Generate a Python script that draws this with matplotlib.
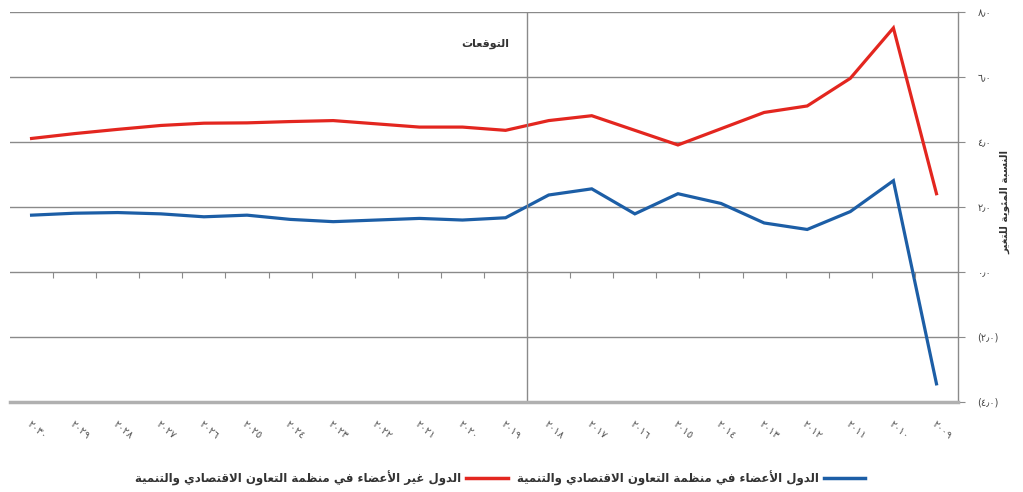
import matplotlib
matplotlib.use("Agg")
import matplotlib.pyplot as plt
from matplotlib.lines import Line2D

# --- minimal Arabic shaping (presentation forms) + visual reordering ---
# letter -> (isolated form code point, dual-joining?)
FORMS = {
    'ء': (0xFE80, None), 'أ': (0xFE83, False), 'ئ': (0xFE89, True), 'ا': (0xFE8D, False),
    'ب': (0xFE8F, True), 'ة': (0xFE93, False), 'ت': (0xFE95, True), 'د': (0xFEA9, False),
    'ر': (0xFEAD, False), 'س': (0xFEB1, True), 'ص': (0xFEB9, True), 'ض': (0xFEBD, True),
    'ظ': (0xFEC5, True), 'ع': (0xFEC9, True), 'غ': (0xFECD, True), 'ف': (0xFED1, True),
    'ق': (0xFED5, True), 'ل': (0xFEDD, True), 'م': (0xFEE1, True), 'ن': (0xFEE5, True),
    'ه': (0xFEE9, True), 'و': (0xFEED, False), 'ي': (0xFEF1, True),
}
LAM_ALEF = {'ا': 0xFEFB, 'أ': 0xFEF7}


def shape(text):
    units = []
    i = 0
    while i < len(text):
        c = text[i]
        if c == 'ل' and i + 1 < len(text) and text[i + 1] in LAM_ALEF:
            units.append(('LA', LAM_ALEF[text[i + 1]], False))
            i += 2
            continue
        if c in FORMS:
            units.append(('L', FORMS[c][0], FORMS[c][1]))
        else:
            units.append(('X', c, None))
        i += 1
    out = []
    for j, (kind, base, dual) in enumerate(units):
        if kind == 'X':
            out.append(base)
            continue
        prev = units[j - 1] if j > 0 else None
        nxt = units[j + 1] if j + 1 < len(units) else None
        jp = prev is not None and prev[0] != 'X' and prev[2] is True
        jn = dual is True and nxt is not None and nxt[0] != 'X'
        if dual is None:
            cp = base
        elif jp and jn:
            cp = base + 3
        elif jn:
            cp = base + 2
        elif jp:
            cp = base + 1
        else:
            cp = base
        out.append(chr(cp))
    return ''.join(out)[::-1]


def ar_digits(s):
    return s.translate(str.maketrans('0123456789.', '٠١٢٣٤٥٦٧٨٩٫'))


# --- data (chronological) ---
years = list(range(2009, 2031))
non_oecd = [2.4, 7.5, 5.95, 5.1, 4.9, 4.4, 3.9, 4.35, 4.8, 4.65, 4.35,
            4.45, 4.45, 4.55, 4.65, 4.62, 4.58, 4.57, 4.5, 4.38, 4.25, 4.1]
oecd = [-3.45, 2.8, 1.85, 1.3, 1.5, 2.1, 2.4, 1.78, 2.55, 2.36, 1.66,
        1.59, 1.64, 1.59, 1.54, 1.61, 1.74, 1.69, 1.78, 1.82, 1.8, 1.74]
y_ticks = [-4, -2, 0, 2, 4, 6, 8]
forecast_start = 2018.5

lbl_oecd = "الدول الأعضاء في منظمة التعاون الاقتصادي والتنمية"
lbl_non = "الدول غير الأعضاء في منظمة التعاون الاقتصادي والتنمية"
lbl_forecast = "التوقعات"
lbl_y = "النسبة المئوية للتغير"

red = '#e3261f'
blue = '#1c5ea6'
grid_c = '#8a8a8a'

plt.rcParams['font.family'] = ['DejaVu Sans']

fig = plt.figure(figsize=(10.23, 4.92), dpi=100)
ax = fig.add_axes([0.0098, 0.1835, 0.9267, 0.7927])

ax.plot(years, non_oecd, color=red, lw=2.3, solid_joinstyle='miter')
ax.plot(years, oecd, color=blue, lw=2.3, solid_joinstyle='miter')

ax.set_xlim(2030.5, 2008.5)
ax.set_ylim(-4, 8)

ax.set_yticks(y_ticks)
ax.set_yticklabels([ar_digits('(%.1f)' % abs(v)) if v < 0 else ar_digits('%.1f' % v) for v in y_ticks],
                   fontsize=7, color='#444444')
ax.yaxis.tick_right()
ax.tick_params(axis='y', length=5, color=grid_c, pad=9)
ax.grid(axis='y', color=grid_c, lw=1)
ax.set_axisbelow(True)

ax.set_xticks(years)
ax.set_xticklabels([ar_digits(str(y)) for y in years], rotation=-40, ha='left',
                   rotation_mode='anchor', fontsize=7.5, color='#555555')
ax.tick_params(axis='x', length=0, pad=12)

for s in ['left', 'top']:
    ax.spines[s].set_visible(False)
ax.spines['right'].set_color(grid_c)
ax.spines['right'].set_linewidth(1)
ax.spines['bottom'].set_color('#b0b0b0')
ax.spines['bottom'].set_linewidth(2.5)

# small category ticks on the zero line
ax2 = ax.twiny()
ax2.set_xlim(ax.get_xlim())
ax2.xaxis.set_ticks_position('bottom')
ax2.spines['bottom'].set_position(('data', 0))
for s in ax2.spines.values():
    s.set_visible(False)
ax2.set_xticks([y + 0.5 for y in years[:-1]])
ax2.set_xticklabels([])
ax2.tick_params(axis='x', length=4, color=grid_c, width=0.8)

ax.axvline(forecast_start, color=grid_c, lw=1)
ax.text(forecast_start + 0.42, 7.0, shape(lbl_forecast), ha='right', va='center',
        fontsize=8, fontweight='bold', color='#333333')

fig.text(0.983, 0.59, shape(lbl_y), rotation=90, ha='center', va='center',
         fontsize=7.5, fontweight='bold', color='#333333')

handles = [Line2D([], [], color=red, lw=2.5), Line2D([], [], color=blue, lw=2.5)]
fig.legend(handles, [shape(lbl_non), shape(lbl_oecd)], loc='center',
           bbox_to_anchor=(0.489, 0.028), ncol=2, frameon=False, markerfirst=False,
           prop={'size': 8.5, 'weight': 'bold'}, labelcolor='#333333',
           handlelength=3.5, columnspacing=0.8, handletextpad=0.4)

fig.savefig('out.png', dpi=100)
